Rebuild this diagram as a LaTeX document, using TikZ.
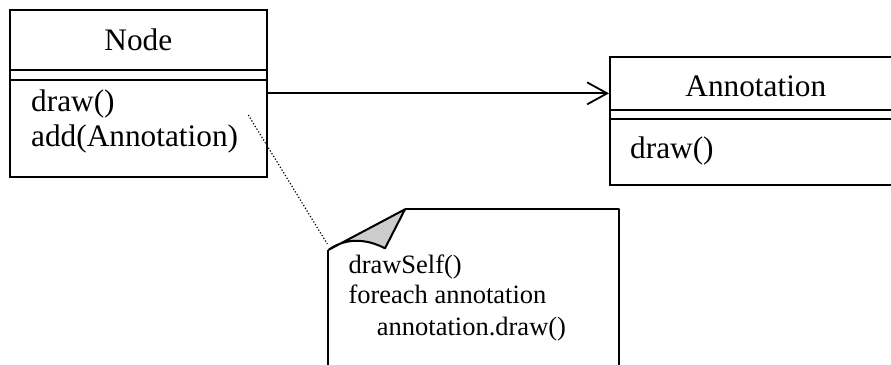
\documentclass[tikz,border=0pt]{standalone}
\usepackage{fontspec}
\setmainfont{Liberation Serif}
\usetikzlibrary{arrows.meta,calc}
\begin{document}
\begin{tikzpicture}[x=1pt,y=-1pt,
  classbox/.style={draw, line width=2pt, rectangle, inner sep=0pt},
  divider/.style={line width=2pt},
  classname/.style={font=\fontsize{31.3}{36}\selectfont, inner sep=0pt, anchor=base},
  member/.style={font=\fontsize{31.3}{36}\selectfont, inner sep=0pt, anchor=base west},
  notetext/.style={font=\fontsize{26.5}{31}\selectfont, inner sep=0pt, anchor=base west},
  assoc/.style={line width=1.8pt, -{Straight Barb[length=20pt, width=22pt, line width=1.8pt]}},
  noteedge/.style={line width=2pt, line join=round},
  anchorline/.style={line width=1.2pt, dotted}
]
\clip (0,0) rectangle (891,364);

% class Node
\node[classbox, minimum width=256.7pt, minimum height=166.7pt] (nodebox) at (138.35,93.35) {};
\draw[divider] (10,70) -- (266.7,70);
\draw[divider] (10,80) -- (266.7,80);
\node[classname] (nodename) at (138.35,50) {Node};
\node[member] (nodedraw) at (31,111.7) {draw()};
\node[member] (nodeadd) at (31,146.7) {add(Annotation)};

% class Annotation (runs past the right edge)
\node[classbox, minimum width=291.7pt, minimum height=128.3pt] (annbox) at (755.85,120.85) {};
\draw[divider] (610,110) -- (901.7,110);
\draw[divider] (610,119.3) -- (901.7,119.3);
\node[classname] (annname) at (755.85,96.7) {Annotation};
\node[member] (anndraw) at (630,158.3) {draw()};

% association
\draw[assoc] (nodebox.east) -- (nodebox.east -| annbox.west);

% note with folded corner
\coordinate (notefold) at (328.3,250);
\coordinate (notetop) at (405,209.3);
\coordinate (notecurl) at (385,248.3);
\draw[noteedge] (notetop) -- (619.3,209.3) -- (619.3,380) -- (328.3,380) -- (notefold);
\draw[noteedge, fill=black!20] (notefold) -- (notetop) -- (notecurl)
  .. controls (365,238) and (345,238) .. (notefold);
\node[notetext] (noteline1) at (348.3,273.3) {drawSelf()};
\node[notetext] (noteline2) at (348.3,303.3) {foreach annotation};
\node[notetext] (noteline3) at (376.7,335) {annotation.draw()};

% note attachment
\coordinate (notelink) at (248.3,115);
\draw[anchorline] (notelink) -- ($(notefold)+(-1,-6)$);
\end{tikzpicture}
\end{document}
